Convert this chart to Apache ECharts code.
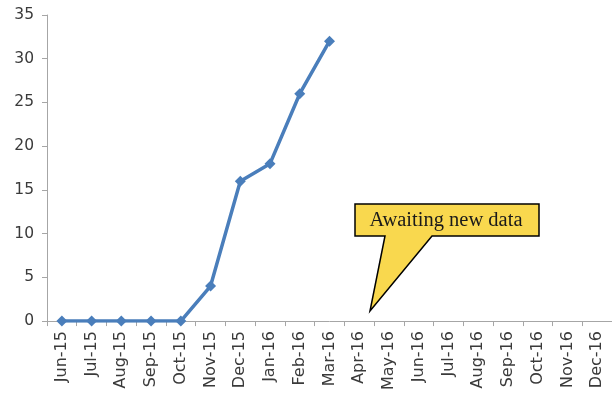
<!DOCTYPE html>
<html>
<head>
<meta charset="utf-8">
<script src="https://cdn.jsdelivr.net/npm/echarts@6/dist/echarts.min.js"></script>
<style>
  html, body { margin: 0; padding: 0; background: #fff; }
  #chart { width: 612px; height: 393px; }
</style>
</head>
<body>
<div id="chart"></div>
<script>
// Monthly categories shown on the x axis
const months = ['Jun-15', 'Jul-15', 'Aug-15', 'Sep-15', 'Oct-15', 'Nov-15', 'Dec-15',
  'Jan-16', 'Feb-16', 'Mar-16', 'Apr-16', 'May-16', 'Jun-16', 'Jul-16', 'Aug-16',
  'Sep-16', 'Oct-16', 'Nov-16', 'Dec-16'];

// Cumulative count; months without data yet are left empty
const counts = [0, 0, 0, 0, 0, 4, 16, 18, 26, 32, null, null, null, null, null, null, null, null, null];

// Value axis ticks
const yTicks = [0, 5, 10, 15, 20, 25, 30, 35];

const calloutText = 'Awaiting new data';

const chart = echarts.init(document.getElementById('chart'), null, { renderer: 'canvas' });

const axisGrey = '#a6a6a6';
const labelColor = '#3a3a3a';

chart.setOption({
  animation: false,
  backgroundColor: '#ffffff',
  grid: { left: 47, top: 15, right: -3, bottom: 71, containLabel: false },
  xAxis: {
    type: 'category',
    data: months,
    boundaryGap: true,
    axisLine: { lineStyle: { color: axisGrey, width: 1 } },
    axisTick: { show: true, alignWithLabel: false, length: 5, lineStyle: { color: axisGrey } },
    axisLabel: {
      rotate: 90,
      interval: 0,
      margin: 10,
      color: labelColor,
      fontFamily: 'DejaVu Sans',
      fontSize: 16
    },
    splitLine: { show: false }
  },
  yAxis: {
    type: 'value',
    min: yTicks[0],
    max: yTicks[yTicks.length - 1],
    interval: yTicks[1] - yTicks[0],
    axisLine: { show: true, lineStyle: { color: axisGrey, width: 1 } },
    axisTick: { show: true, length: 5, lineStyle: { color: axisGrey } },
    axisLabel: {
      margin: 13,
      color: labelColor,
      fontFamily: 'DejaVu Sans',
      fontSize: 15.5
    },
    splitLine: { show: false }
  },
  series: [{
    type: 'line',
    data: counts,
    connectNulls: false,
    symbol: 'diamond',
    symbolSize: 11,
    showAllSymbol: true,
    lineStyle: { color: '#4a7ebb', width: 3.5 },
    itemStyle: { color: '#4a7ebb' },
    z: 3
  }],
  graphic: [{
    type: 'group',
    children: [{
      type: 'polygon',
      shape: {
        points: [[355, 204], [539, 204], [539, 236], [432, 236], [370, 311], [385, 236], [355, 236]]
      },
      style: { fill: '#f9d84e', stroke: '#000000', lineWidth: 1.5 }
    }, {
      type: 'text',
      x: 446,
      y: 221,
      style: {
        text: calloutText,
        fill: '#1a1a1a',
        font: '20.5px "Liberation Serif", "DejaVu Serif", serif',
        align: 'center',
        verticalAlign: 'middle'
      }
    }]
  }]
});
</script>
</body>
</html>
